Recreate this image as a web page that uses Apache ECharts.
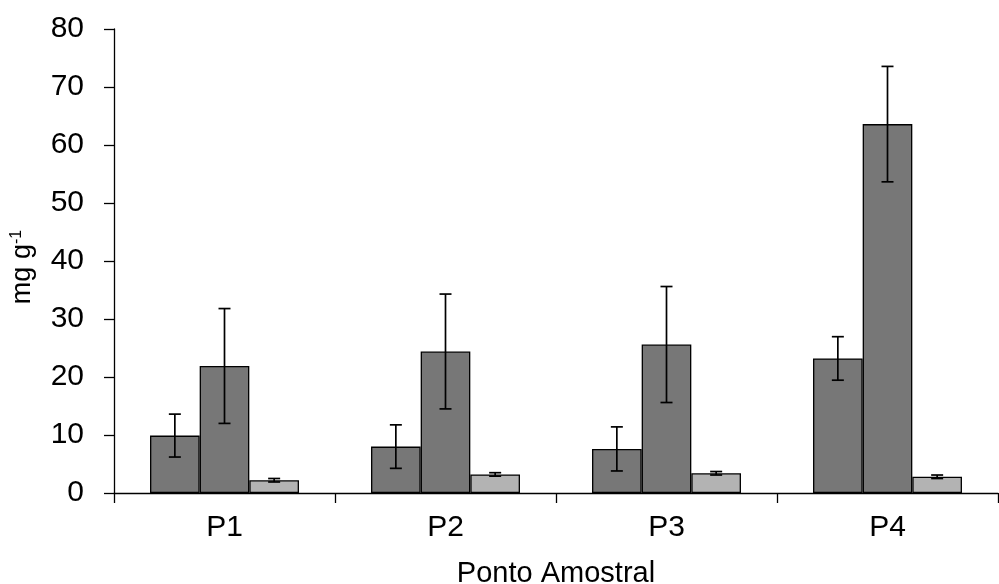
<!DOCTYPE html>
<html>
<head>
<meta charset="utf-8" />
<script src="https://cdn.jsdelivr.net/npm/echarts@6/dist/echarts.min.js"></script>
<style>
  html,
  body {
    margin: 0;
    padding: 0;
    background: #fff;
  }
  #chart {
    width: 999px;
    height: 584px;
  }
</style>
</head>
<body>
<div id="chart"></div>
<script>
const categories = ["P1", "P2", "P3", "P4"];
const serie1 = [9.9, 8.0, 7.6, 23.2];
const serie1Err = [3.7, 3.75, 3.8, 3.75];
const serie2 = [21.9, 24.4, 25.6, 63.6];
const serie2Err = [9.9, 9.9, 10.0, 9.95];
const serie3 = [2.2, 3.2, 3.4, 2.8];
const serie3Err = [0.3, 0.3, 0.3, 0.3];
const yTicks = [0, 10, 20, 30, 40, 50, 60, 70, 80];

const FONT = "Liberation Sans, Arial, sans-serif";
const CAT_GAP = 0.326;

function errData(vals, errs) {
  return vals.map((v, i) => [i, v - errs[i], v + errs[i]]);
}

// error bars drawn over grouped bars, idx = position inside the group
function errSeries(vals, errs, idx) {
  return {
    type: "custom",
    z: 10,
    data: errData(vals, errs),
    encode: { x: 0, y: [1, 2] },
    renderItem: function (params, api) {
      const band = api.size([1, 0])[0];
      const barW = (band * (1 - CAT_GAP)) / 3;
      const off = (idx - 1) * barW;
      const lo = api.coord([api.value(0), api.value(1)]);
      const hi = api.coord([api.value(0), api.value(2)]);
      const x = lo[0] + off;
      const cap = 6;
      const style = { stroke: "#000", lineWidth: 1.7 };
      return {
        type: "group",
        children: [
          { type: "line", shape: { x1: x, y1: lo[1], x2: x, y2: hi[1] }, style },
          { type: "line", shape: { x1: x - cap, y1: lo[1], x2: x + cap, y2: lo[1] }, style },
          { type: "line", shape: { x1: x - cap, y1: hi[1], x2: x + cap, y2: hi[1] }, style },
        ],
      };
    },
  };
}

const chart = echarts.init(document.getElementById("chart"));
chart.setOption({
  animation: false,
  textStyle: { fontFamily: FONT, color: "#000" },
  grid: {
    left: 114,
    right: 1,
    top: 29,
    bottom: 91,
    containLabel: false,
    outerBoundsMode: "none",
  },
  xAxis: {
    type: "category",
    data: categories,
    name: "Ponto Amostral",
    nameLocation: "middle",
    nameGap: 66,
    nameTextStyle: { fontSize: 29, color: "#000", fontFamily: FONT },
    axisLine: { lineStyle: { color: "#000", width: 1.3 } },
    axisTick: { show: true, length: 10, lineStyle: { color: "#000", width: 1.3 } },
    axisLabel: { fontSize: 30, color: "#000", margin: 20, fontFamily: FONT },
  },
  yAxis: {
    type: "value",
    min: yTicks[0],
    max: yTicks[yTicks.length - 1],
    interval: 10,
    name: "{a|mg g}{b|-1}",
    nameLocation: "middle",
    nameGap: 78,
    nameTextStyle: {
      padding: [0, 12, 0, 0],
      rich: {
        a: { fontSize: 27, color: "#000", fontFamily: FONT },
        b: { fontSize: 16, color: "#000", fontFamily: FONT, verticalAlign: "top" },
      },
    },
    axisLine: { show: true, lineStyle: { color: "#000", width: 1.3 } },
    axisTick: { show: true, length: 10, lineStyle: { color: "#000", width: 1.3 } },
    axisLabel: { fontSize: 30, color: "#000", margin: 30, fontFamily: FONT },
    splitLine: { show: false },
  },
  series: [
    {
      type: "bar",
      data: serie1,
      barGap: 0,
      barCategoryGap: CAT_GAP * 100 + "%",
      itemStyle: { color: "#777777", borderColor: "#000", borderWidth: 1.3 },
    },
    {
      type: "bar",
      data: serie2,
      barGap: 0,
      barCategoryGap: CAT_GAP * 100 + "%",
      itemStyle: { color: "#777777", borderColor: "#000", borderWidth: 1.3 },
    },
    {
      type: "bar",
      data: serie3,
      barGap: 0,
      barCategoryGap: CAT_GAP * 100 + "%",
      itemStyle: { color: "#b3b3b3", borderColor: "#000", borderWidth: 1.3 },
    },
    errSeries(serie1, serie1Err, 0),
    errSeries(serie2, serie2Err, 1),
    errSeries(serie3, serie3Err, 2),
  ],
});
</script>
</body>
</html>
